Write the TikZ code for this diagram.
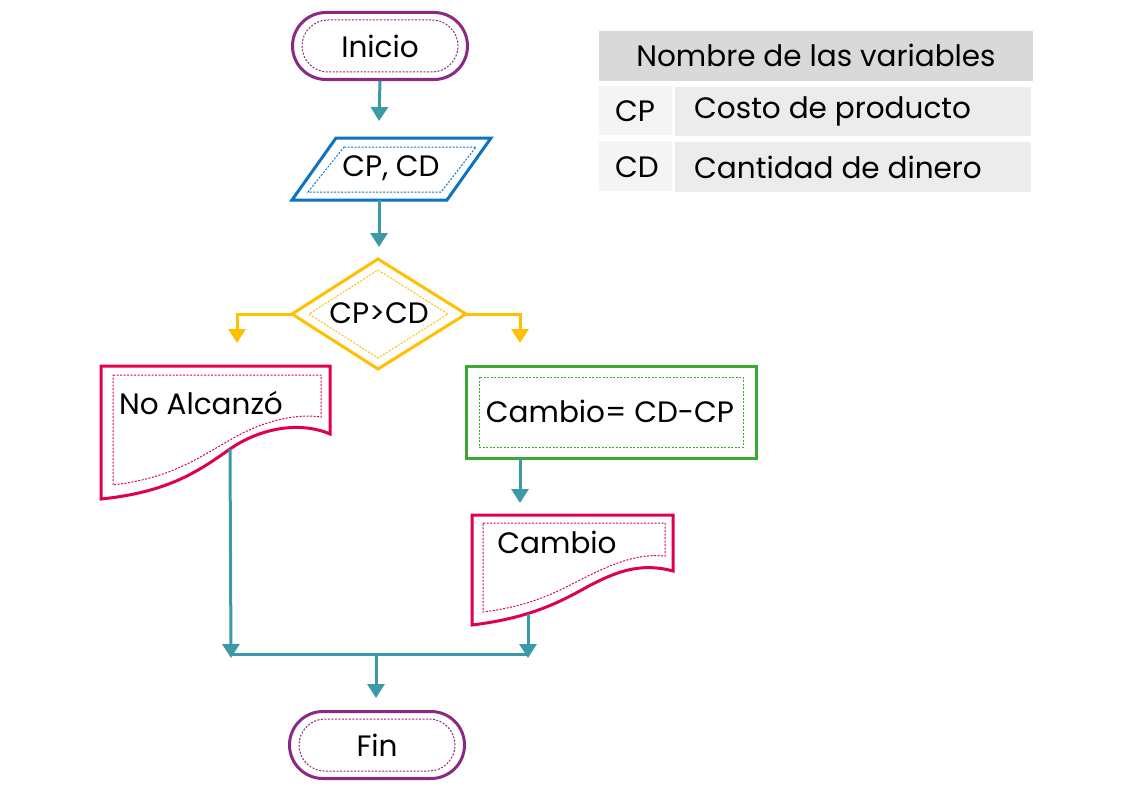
\documentclass[tikz,border=0pt]{standalone}
\usepackage{fontspec}
\setmainfont{Poppins}
\usetikzlibrary{arrows.meta,shapes.misc}
\definecolor{cpurple}{HTML}{8B2A84}
\definecolor{cteal}{HTML}{3C99A6}
\definecolor{cblue}{HTML}{0E74C0}
\definecolor{cyellow}{HTML}{FFC000}
\definecolor{cred}{HTML}{E0004D}
\definecolor{cgreen}{HTML}{3BAA35}
\definecolor{chead}{HTML}{D9D9D9}
\definecolor{ckey}{HTML}{F4F4F4}
\definecolor{cdesc}{HTML}{ECECEC}
\begin{document}
\begin{tikzpicture}[x=1pt,y=-1pt,
  txt/.style={font=\fontsize{29.5}{33}\selectfont, inner sep=0pt, text=black},
  outer/.style={line width=3pt},
  inner/.style={line width=1pt, dash pattern=on 2pt off 1.5pt},
  conn/.style={cteal, line width=3pt, -{Triangle[width=17pt,length=14pt]}},
  yconn/.style={cyellow, line width=3pt, -{Triangle[width=17pt,length=14pt]}},
  plain/.style={cteal, line width=3pt},
  term/.style={rounded rectangle, draw=cpurple, outer, minimum width=175pt, minimum height=67pt, inner sep=0pt},
  termin/.style={rounded rectangle, draw=cpurple, inner, minimum width=156pt, minimum height=52pt, inner sep=0pt}
]
\useasboundingbox (0,0) rectangle (1135,792);
\fill[white] (0,0) rectangle (1135,792);

% Inicio
\node[term] (ini) at (380,46) {};
\node[termin] (iniin) at (380,46) {};
\node[txt] (initxt) at (380,46) {Inicio};

% Input parallelogram
\draw[cblue, outer, line join=miter] (336,138) -- (491,138) -- (447,200) -- (292,200) -- cycle;
\draw[cblue, inner] (344,147) -- (476,147) -- (441,192) -- (308,192) -- cycle;
\node[txt] (in) at (391,168) {CP, CD};
\coordinate (inTop) at (379,121);
\coordinate (inBot) at (379,200);

% Decision diamond
\draw[cyellow, outer, line join=miter] (378,259) -- (466,314) -- (378,369) -- (292,314) -- cycle;
\draw[cyellow, inner] (378,270) -- (448,314) -- (378,358) -- (309,314) -- cycle;
\node[txt] (dec) at (379,313) {CP>CD};
\coordinate (decTop) at (379,247);
\coordinate (decL) at (292,314);
\coordinate (decR) at (466,314);

% No Alcanzo document
\draw[cred, outer, line join=miter] (101,366) -- (330,366) -- (330,434)
  .. controls (300,421) and (260,428) .. (230,449)
  .. controls (200,470) and (170,492) .. (101,499) -- cycle;
\draw[cred, inner] (113,375) -- (321,375) -- (321,417)
  .. controls (295,413) and (260,422) .. (230,440)
  .. controls (195,460) and (170,478) .. (113,485) -- cycle;
\node[txt, anchor=west] (no) at (119,403) {No Alcanzó};
\coordinate (noBot) at (230,449);
\coordinate (noTL) at (237,343);

% Cambio process
\draw[cgreen, outer] (466,366) rectangle (756,458);
\draw[cgreen, inner] (479,377) rectangle (743,447);
\node[txt] (proc) at (610,411) {Cambio= CD-CP};
\coordinate (procTR) at (520,343);
\coordinate (procBot) at (520,458);

% Cambio document
\draw[cred, outer, line join=miter] (472,515) -- (673,515) -- (673,571)
  .. controls (640,562) and (615,572) .. (587,587)
  .. controls (560,602) and (530,618) .. (472,625) -- cycle;
\draw[cred, inner] (483,523) -- (665,523) -- (665,556)
  .. controls (635,553) and (608,566) .. (580,580)
  .. controls (555,593) and (530,606) .. (483,612) -- cycle;
\node[txt] (out) at (557,542) {Cambio};
\coordinate (outTop) at (520,503);
\coordinate (outBot) at (528,614);

% Fin
\node[term] (fin) at (377,745) {};
\node[termin] (finin) at (377,745) {};
\node[txt] (fintxt) at (377,745) {Fin};
\coordinate (finTop) at (376,698);

% join coordinates
\coordinate (jL) at (231,658);
\coordinate (jR) at (528,658);
\coordinate (jLh) at (231,654);
\coordinate (jRh) at (528,654);
\coordinate (jM) at (376,654);

% connectors
\draw[conn] (ini.south) -- (inTop);
\draw[conn] (inBot) -- (decTop);
\draw[yconn] (decL) -- (237,314) -- (noTL);
\draw[yconn] (decR) -- (520,314) -- (procTR);
\draw[conn] (procBot) -- (outTop);
\draw[conn] (noBot) -- (jL);
\draw[conn] (outBot) -- (jR);
\draw[plain] (jLh) -- (jRh);
\draw[conn] (jM) -- (finTop);

% Variables table
\fill[chead] (599,31) rectangle (1033,81);
\node[txt] (th) at (816,55) {Nombre de las variables};
\fill[ckey] (599,86) rectangle (672,135);
\fill[cdesc] (675,87) rectangle (1031,136);
\node[txt] (k1) at (635,111) {CP};
\node[txt, anchor=west] (d1) at (694,111) {Costo de producto};
\fill[ckey] (599,141) rectangle (672,191);
\fill[cdesc] (675,142) rectangle (1031,192);
\node[txt] (k2) at (637,167) {CD};
\node[txt, anchor=west] (d2) at (694,167) {Cantidad de dinero};
\end{tikzpicture}
\end{document}
